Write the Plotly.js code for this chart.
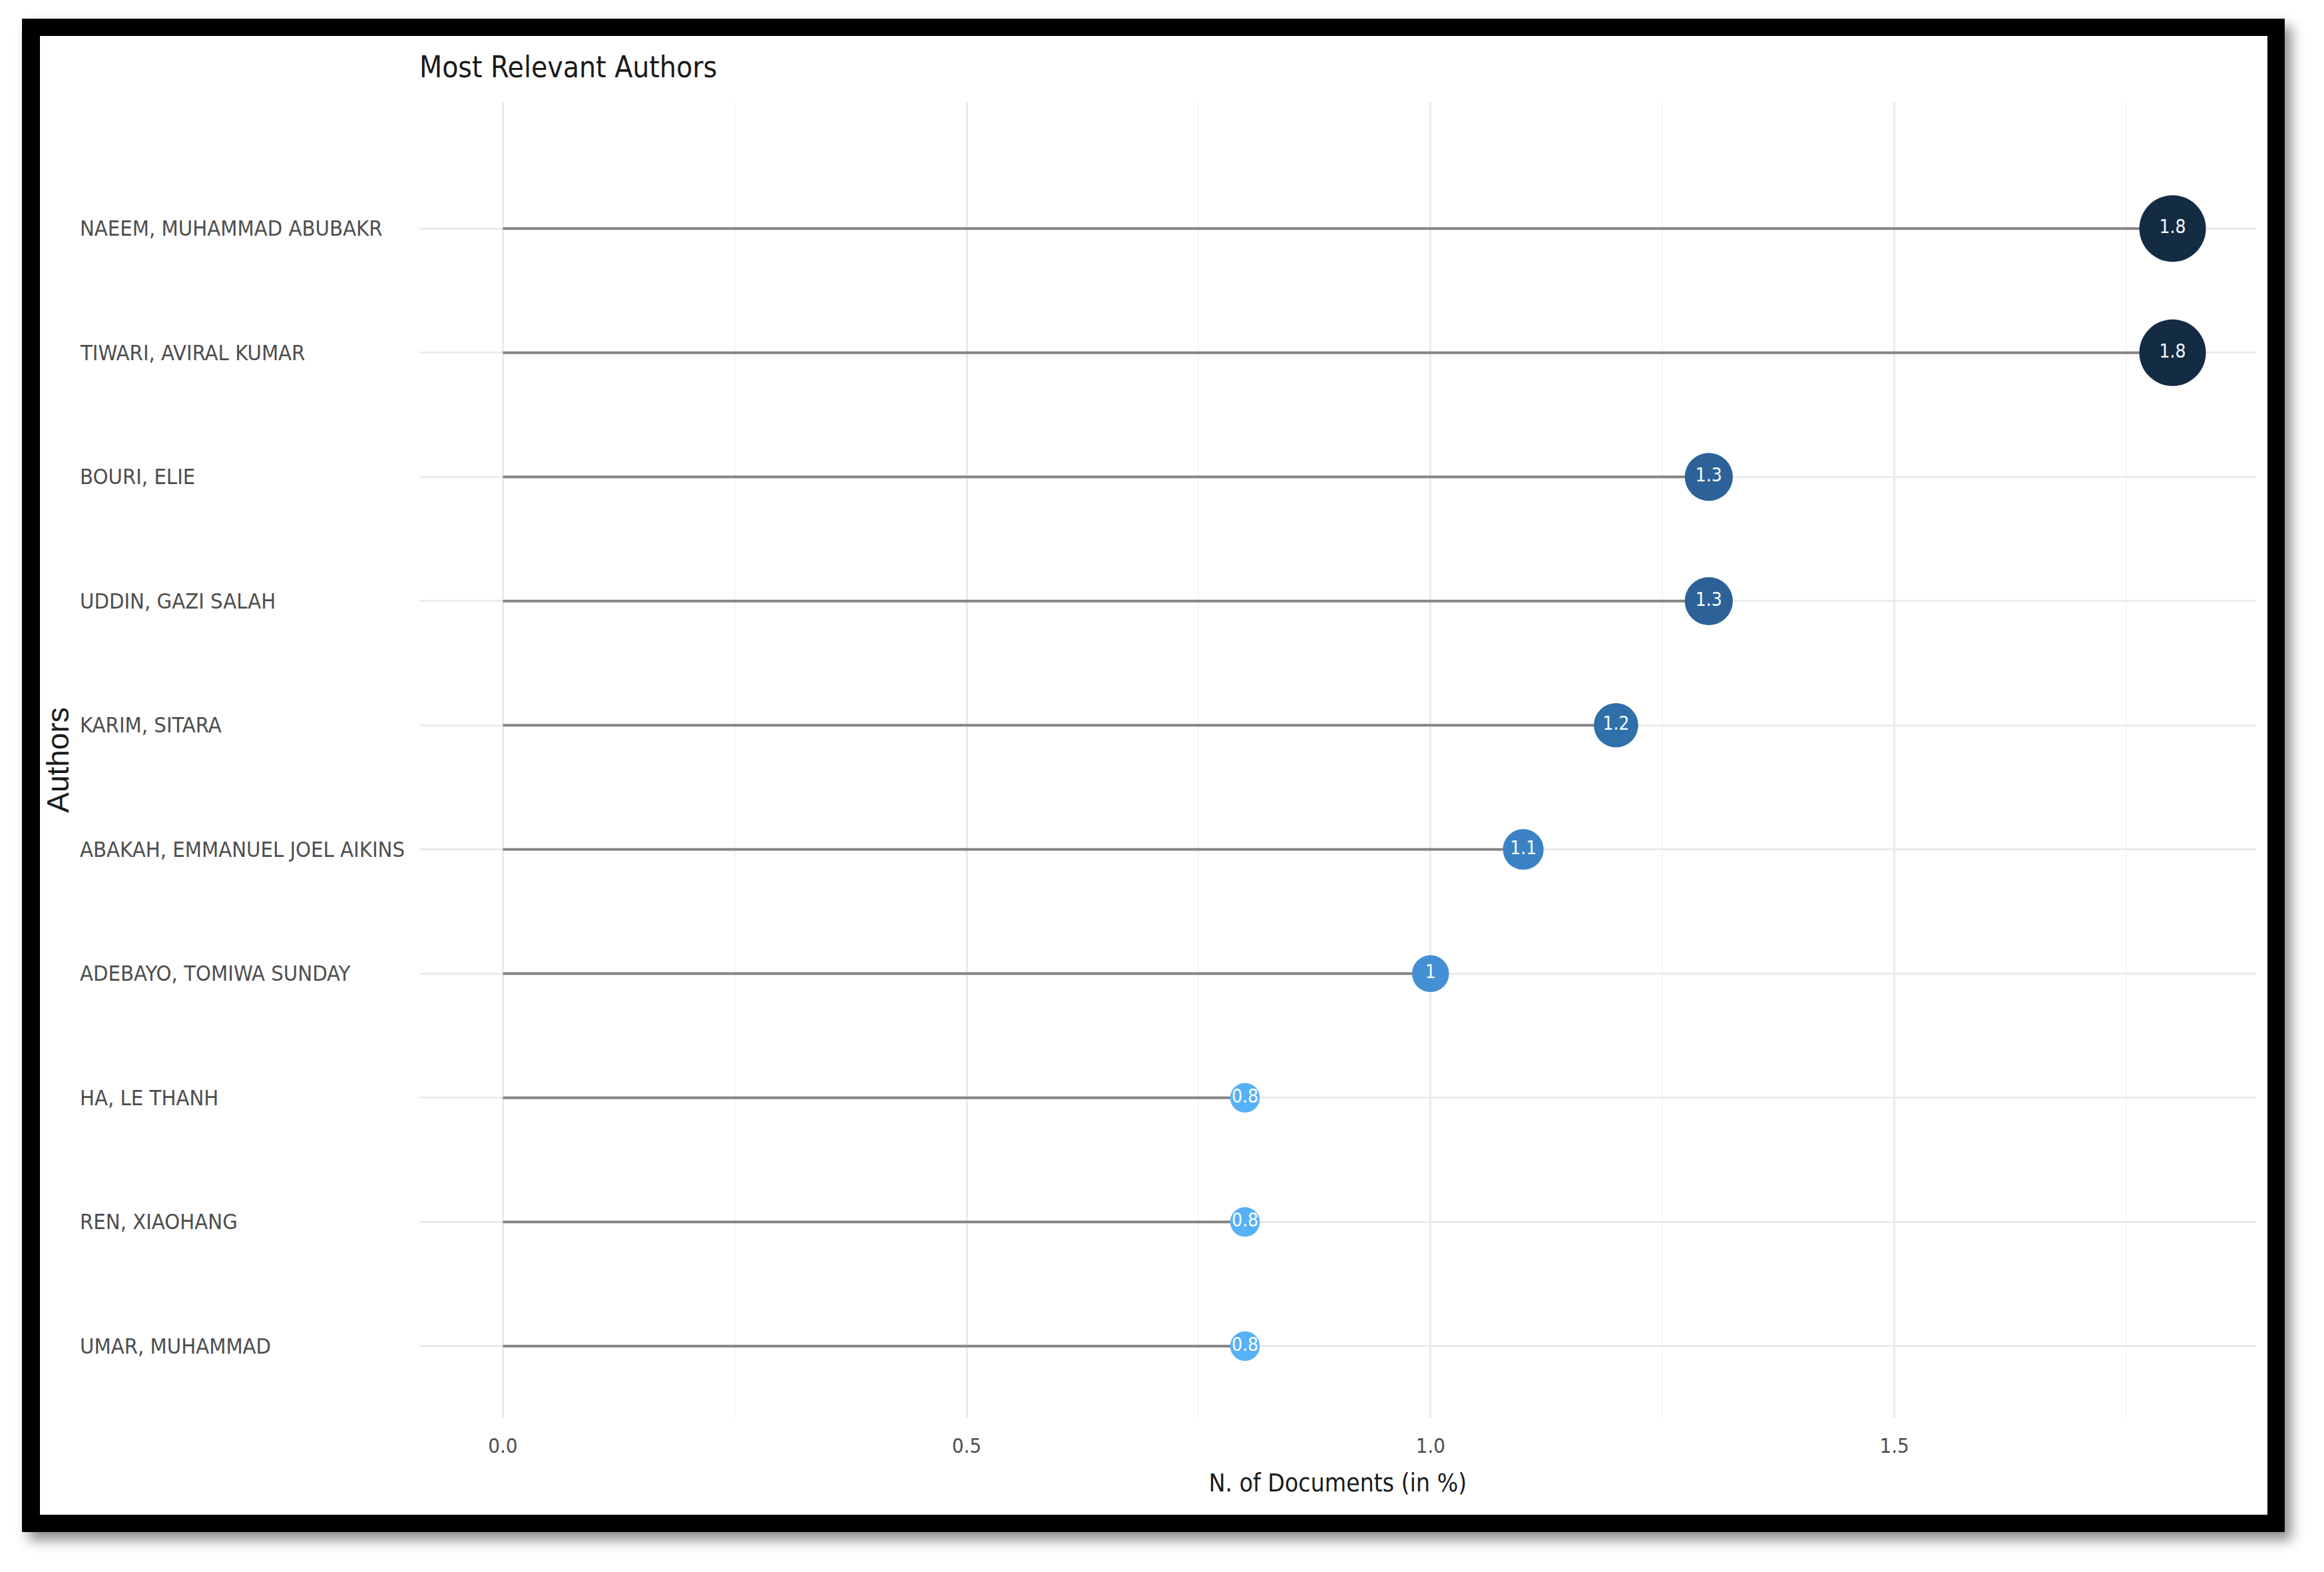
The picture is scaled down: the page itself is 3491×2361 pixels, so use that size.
<!DOCTYPE html>
<html>
<head>
<meta charset="utf-8">
<script src="https://cdn.plot.ly/plotly-3.0.1.min.js"></script>
<style>
  html, body { margin: 0; padding: 0; background: #ffffff; }
  #chart { position: absolute; left: 0; top: 0; width: 3491px; height: 2361px; }
  #frame {
    position: absolute; left: 33px; top: 28px; width: 3399px; height: 2273px;
    box-sizing: border-box; border-style: solid; border-color: #000;
    border-width: 26px 26px 26px 27px;
    box-shadow: 10px 12px 18px rgba(0,0,0,0.45);
    pointer-events: none; z-index: 10;
  }
</style>
</head>
<body>
<div id="chart"></div>
<div id="frame"></div>
<script>
// ---- data (top to bottom as in the chart) ----
const authors = [
  "NAEEM, MUHAMMAD ABUBAKR",
  "TIWARI, AVIRAL KUMAR",
  "BOURI, ELIE",
  "UDDIN, GAZI SALAH",
  "KARIM, SITARA",
  "ABAKAH, EMMANUEL JOEL AIKINS",
  "ADEBAYO, TOMIWA SUNDAY",
  "HA, LE THANH",
  "REN, XIAOHANG",
  "UMAR, MUHAMMAD"
];
const docsPct = [1.8, 1.8, 1.3, 1.3, 1.2, 1.1, 1.0, 0.8, 0.8, 0.8];
const xTicks = [0, 0.5, 1.0, 1.5];
const xTickLabels = ["0.0", "0.5", "1.0", "1.5"];

const NARROW = "'Liberation Sans Narrow', 'Arial Narrow', 'DejaVu Sans Condensed', 'Liberation Sans', sans-serif";
const REGULAR = "'Liberation Sans', Arial, sans-serif";

// lollipop stems built from the data
const segX = [], segY = [];
authors.forEach((a, i) => { segX.push(0, docsPct[i], null); segY.push(a, a, null); });

const stems = {
  type: "scatter", mode: "lines", x: segX, y: segY,
  line: { color: "#858585", width: 4 },
  hoverinfo: "skip", showlegend: false
};

const dots = {
  type: "scatter", mode: "markers+text",
  x: docsPct, y: authors,
  text: docsPct.map(v => String(v)),
  textposition: "middle center",
  textfont: { family: NARROW, size: 28, color: "#ffffff" },
  marker: {
    color: docsPct,
    cmin: 0.8, cmax: 1.8,
    colorscale: [
      [0.0, "#56B1F7"], [0.2, "#4590D4"], [0.3, "#3A82C4"],
      [0.4, "#2F6FAA"], [0.5, "#2C6298"], [0.75, "#204769"], [1.0, "#132B43"]
    ],
    showscale: false,
    opacity: 1,
    size: docsPct, sizemode: "diameter", sizeref: 0.018,
    line: { width: 0 }
  },
  showlegend: false
};

// left-aligned author labels
const labelAnn = authors.map(a => ({
  xref: "paper", yref: "y", x: -0.1856, y: a,
  xanchor: "left", yanchor: "middle", showarrow: false,
  text: a, font: { family: NARROW, size: 32.5, color: "#4D4D4D" }
}));

const layout = {
  width: 3491, height: 2361,
  paper_bgcolor: "#ffffff", plot_bgcolor: "#ffffff",
  margin: { l: 630, r: 102, t: 153, b: 231 },
  title: {
    text: "Most Relevant Authors",
    xref: "paper", x: 0, xanchor: "left",
    yref: "container", y: 0.9576, yanchor: "middle",
    font: { family: NARROW, size: 44, color: "#1a1a1a" }
  },
  xaxis: {
    range: [-0.09, 1.89],
    tickvals: xTicks, ticktext: xTickLabels,
    showgrid: true, gridcolor: "#EBEBEB", gridwidth: 3,
    minor: { tick0: 0.25, dtick: 0.5, showgrid: true, gridcolor: "#F4F4F4", gridwidth: 2 },
    zeroline: false, showline: false, ticks: "",
    ticklabelstandoff: 20,
    tickfont: { family: NARROW, size: 31, color: "#4D4D4D" },
    title: { text: "N. of Documents (in %)", standoff: 26,
             font: { family: NARROW, size: 37, color: "#1a1a1a" } }
  },
  yaxis: {
    type: "category", categoryorder: "array", categoryarray: authors,
    range: [9.58, -1.02],
    showgrid: true, gridcolor: "#EBEBEB", gridwidth: 3,
    zeroline: false, showline: false, ticks: "",
    showticklabels: false,
    title: { text: "Authors", standoff: 510,
             font: { family: REGULAR, size: 46, color: "#1a1a1a" } }
  },
  annotations: labelAnn
};

Plotly.newPlot("chart", [stems, dots], layout, { staticPlot: true, displayModeBar: false });
</script>
</body>
</html>
